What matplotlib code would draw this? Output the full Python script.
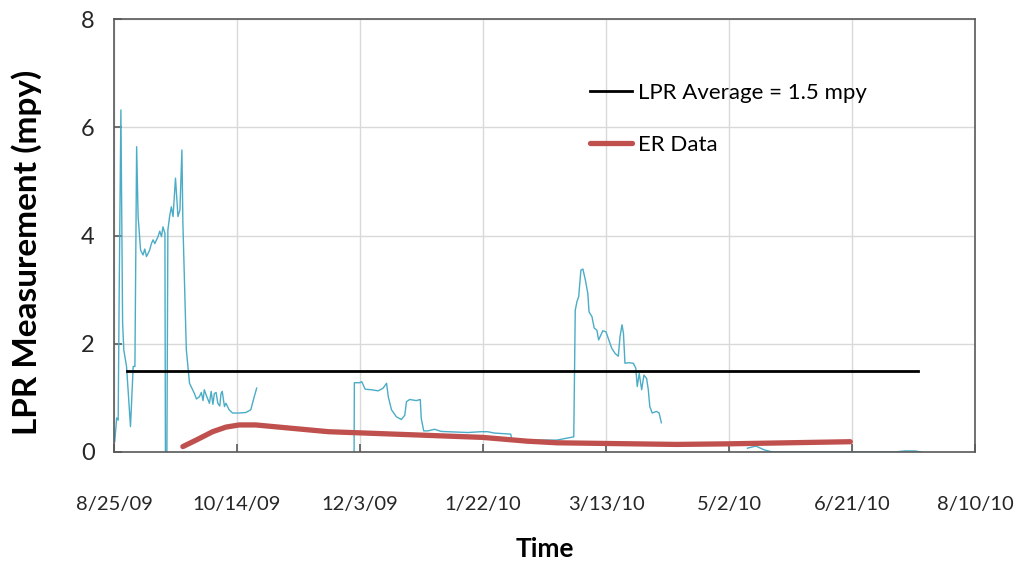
import matplotlib
matplotlib.use("Agg")
import matplotlib.pyplot as plt
import matplotlib.dates as mdates
import matplotlib.ticker as mticker
import numpy as np

# Days are counted from 8/25/09
start_date = "2009-08-25"

lpr_days = [
    0.3, 1.1, 1.7, 2.1, 2.8, 3.5, 4.0, 5.1, 6.7, 7.8, 8.5, 9.2, 9.8, 10.8, 11.8,
    12.5, 13.2, 14.5, 15.2, 15.9, 16.6, 17.9, 18.6, 19.3, 19.9, 20.7, 20.9, 21.5,
    21.9, 22.6, 23.3, 24.0, 25.0, 26.0, 26.8, 27.6, 28.0, 29.4, 30.7, 32.7, 33.5,
    34.7, 35.5, 36.2, 36.7, 37.5, 38.8, 39.5, 40.2, 40.8, 41.5, 42.2, 43.0, 43.5,
    44.0, 44.9, 45.5, 46.8, 48.2, 50.9, 53.6, 55.6, 57.0, 58.0,
    80.0,
    97.6, 97.7, 100.0, 100.7, 102.1, 104.7, 107.4, 109.4, 110.8, 111.5, 112.8,
    114.8, 116.8, 118.2, 118.9, 120.2, 122.9, 124.5, 124.9, 125.9, 127.6, 130.3,
    133.0, 138.4, 143.8, 149.2, 151.9, 154.6, 161.3, 161.7, 170.0, 180.0, 186.9,
    187.5, 188.2, 188.9, 189.8, 190.6, 191.6, 192.6, 193.1, 194.3, 195.2, 196.3,
    197.0, 197.6, 198.7, 200.0, 201.4, 202.3, 203.7, 205.0, 205.7, 206.5, 207.1,
    207.7, 209.1, 211.1, 212.1, 212.7, 213.5, 214.5, 215.4, 216.5, 217.2, 217.8,
    218.8, 220.5, 221.6, 222.5,
    240.0,
    257.5, 260.9, 264.3, 267.6, 290.0, 317.4, 321.5, 325.5, 328.2,
]
lpr_values = [
    0.19, 0.63, 0.59, 2.90, 6.32, 2.38, 1.88, 1.58, 0.47, 1.58, 1.58, 5.64, 4.35,
    3.73, 3.64, 3.75, 3.61, 3.73, 3.85, 3.92, 3.85, 3.98, 4.08, 3.98, 4.16, 4.04,
    0.00, 0.00, 4.10, 4.35, 4.53, 4.35, 5.06, 4.35, 4.47, 5.58, 4.23, 1.89, 1.27,
    1.08, 0.98, 1.02, 1.10, 0.95, 1.15, 1.05, 0.90, 1.12, 0.88, 1.08, 1.10, 0.90,
    0.85, 1.08, 1.12, 0.84, 0.90, 0.78, 0.72, 0.72, 0.73, 0.78, 1.02, 1.18,
    np.nan,
    0.00, 1.28, 1.28, 1.30, 1.16, 1.15, 1.13, 1.18, 1.27, 1.02, 0.78, 0.65, 0.60,
    0.68, 0.93, 0.97, 0.95, 0.97, 0.62, 0.39, 0.39, 0.42, 0.38, 0.37, 0.36, 0.375,
    0.375, 0.35, 0.33, 0.22, 0.22, 0.22, 0.28, 2.62, 2.78, 2.87, 3.36, 3.38, 3.18,
    2.93, 2.59, 2.50, 2.29, 2.25, 2.07, 2.13, 2.24, 2.22, 2.04, 1.92, 1.82, 1.77,
    2.13, 2.35, 2.19, 1.64, 1.65, 1.64, 1.55, 1.21, 1.45, 1.15, 1.42, 1.36, 1.15,
    0.84, 0.72, 0.75, 0.72, 0.54,
    np.nan,
    0.07, 0.11, 0.04, 0.00, 0.00, 0.00, 0.02, 0.02, 0.00,
]

avg_days = [5.1, 326.7]
avg_values = [1.5, 1.5]

er_days = [28.0, 33.4, 40.1, 45.5, 50.9, 57.6, 67.0, 87.2, 149.8, 168.0, 180.1,
           212.4, 228.6, 248.5, 299.3]
er_values = [0.10, 0.22, 0.375, 0.46, 0.50, 0.50, 0.46, 0.375, 0.27, 0.20, 0.17,
             0.15, 0.14, 0.15, 0.19]

tick_days = [0, 50, 100, 150, 200, 250, 300, 350]
y_ticks = [0, 2, 4, 6, 8]

plt.rcParams["font.family"] = ["Lato", "DejaVu Sans"]

base = mdates.datestr2num(start_date)

fig = plt.figure(figsize=(10.16, 5.71), dpi=100)
ax = fig.add_axes([114 / 1016, 1 - 452 / 571, 861 / 1016, 433 / 571])

ax.plot(base + np.array(lpr_days), lpr_values, color="#4bacc6", lw=1.0, zorder=2)
ax.plot(base + np.array(avg_days), avg_values, color="black", lw=2.0,
        label="LPR Average = 1.5 mpy", zorder=3)
ax.plot(base + np.array(er_days), er_values, color="#c0504d", lw=3.8,
        solid_capstyle="round", label="ER Data", zorder=4)

ax.set_xlim(base + tick_days[0], base + tick_days[-1])
ax.set_ylim(0, 8)
ax.set_xticks(base + np.array(tick_days))
ax.set_yticks(y_ticks)


def date_label(x, pos):
    d = mdates.num2date(x)
    return f"{d.month}/{d.day}/{d:%y}"


ax.xaxis.set_major_formatter(mticker.FuncFormatter(date_label))
ax.grid(True, color="#d9d9d9", lw=1.0)
ax.set_axisbelow(True)
for s in ax.spines.values():
    s.set_color("#595959")
    s.set_linewidth(1.2)
ax.tick_params(axis="both", direction="in", length=6, width=1.2, color="#595959",
               labelcolor="#262626")
ax.tick_params(axis="x", pad=32, labelsize=14.5)
ax.tick_params(axis="y", pad=14, labelsize=17)

fig.text(27 / 1016, 1 - 252 / 571, "LPR Measurement (mpy)", rotation=90,
         ha="center", va="center", fontsize=24, fontweight="bold", color="black")
fig.text(545 / 1016, 1 - 549 / 571, "Time", ha="center", va="center",
         fontsize=19, fontweight="bold", color="black")

ax.legend(loc="upper left", bbox_to_anchor=(590 / 1016, 1 - 83 / 571),
          bbox_transform=fig.transFigure, frameon=False, fontsize=16,
          handlelength=1.9, handletextpad=0.25, labelspacing=1.42,
          borderpad=0, borderaxespad=0)

fig.savefig("out.png", dpi=100)
